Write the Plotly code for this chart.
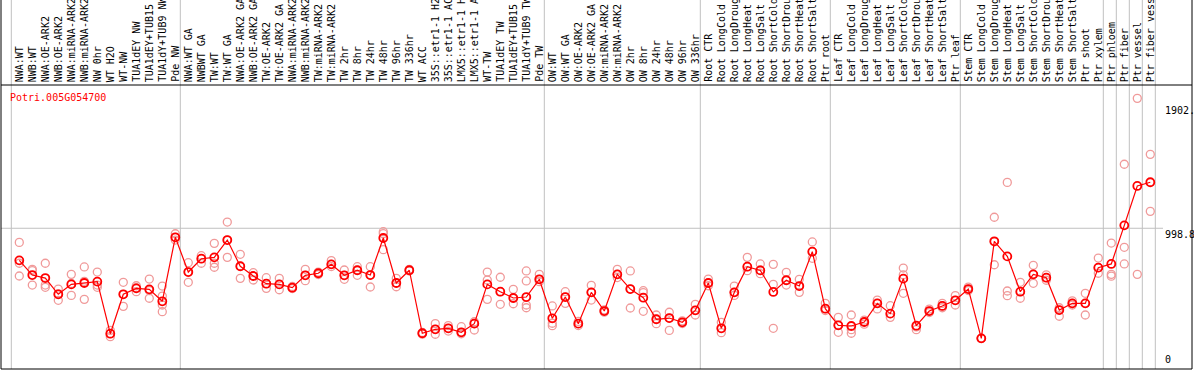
import plotly.graph_objects as go

gene = "Potri.005G054700"

labels = [
    "NWA:WT", "NWB:WT", "NWA:OE-ARK2", "NWB:OE-ARK2", "NWA:miRNA-ARK2", "NWB:miRNA-ARK2",
    "NW 0hr", "WT H2O", "WT-NW", "TUA1dEY NW", "TUA1dEY+TUB15", "TUA1dY+TUB9 NW", "Pde NW",
    "NWA:WT GA", "NWBWT GA", "TW:WT", "TW:WT GA", "NWA:OE-ARK2 GA", "NWB:OE-ARK2 GA",
    "TW:OE-ARK2", "TW:OE-ARK2 GA", "NWA:miRNA-ARK2", "NWB:miRNA-ARK2", "TW:miRNA-ARK2",
    "TW:miRNA-ARK2", "TW 2hr", "TW 8hr", "TW 24hr", "TW 48hr", "TW 96hr", "TW 336hr",
    "WT ACC", "35S::etr1-1 H2", "35S::etr1-1 AC", "LMX5::etr1-1 H", "LMX5::etr1-1 A",
    "WT-TW", "TUA1dEY TW", "TUA1dEY+TUB15", "TUA1dY+TUB9 TW", "Pde TW",
    "OW:WT", "OW:WT GA", "OW:OE-ARK2", "OW:OE-ARK2 GA", "OW:miRNA-ARK2", "OW:miRNA-ARK2",
    "OW 2hr", "OW 8hr", "OW 24hr", "OW 48hr", "OW 96hr", "OW 336hr",
    "Root CTR", "Root LongCold", "Root LongDroug", "Root LongHeat", "Root LongSalt",
    "Root ShortCold", "Root ShortDrou", "Root ShortHeat", "Root ShortSalt", "Ptr root",
    "Leaf CTR", "Leaf LongCold", "Leaf LongDroug", "Leaf LongHeat", "Leaf LongSalt",
    "Leaf ShortCold", "Leaf ShortDrou", "Leaf ShortHeat", "Leaf ShortSalt", "Ptr leaf",
    "Stem CTR", "Stem LongCold", "Stem LongDroug", "Stem LongHeat", "Stem LongSalt",
    "Stem ShortCold", "Stem ShortDrou", "Stem ShortHeat", "Stem ShortSalt", "Ptr shoot",
    "Ptr xylem", "Ptr phloem", "Ptr fiber", "Ptr vessel", "Ptr fiber vess",
]

means = [
    765, 658, 636, 518, 590, 600, 610, 231, 518, 561, 554, 467, 933,
    680, 777, 787, 913, 722, 651, 595, 590, 566, 656, 671, 736, 656, 693, 658, 928,
    600, 693, 234, 263, 270, 241, 304, 590, 537, 491, 498, 627,
    343, 498, 304, 532, 396, 663, 556, 493, 336, 345, 314, 401,
    600, 270, 532, 719, 692, 535, 620, 578, 828, 413,
    292, 287, 316, 452, 377, 632, 289, 396, 433, 474,
    556, 197, 904, 794, 537, 663, 639, 403, 452, 452, 712, 739, 1020, 1307, 1334,
]

replicates = [
    [896, 744, 651], [700, 585, 690], [744, 585, 569], [556, 520, 474], [663, 597, 510],
    [717, 612, 481], [680, 585, 569], [255, 209, 231], [605, 430, 518], [580, 537, 566],
    [629, 489, 545], [578, 505, 440, 391], [959, 913, 933],
    [748, 680, 605], [799, 777, 744], [889, 744, 715], [1044, 913, 787], [809, 634, 722],
    [675, 622, 651], [639, 561, 595], [634, 551, 590], [575, 560, 566], [700, 617, 656],
    [680, 662, 671], [763, 720, 736], [695, 627, 656], [719, 656, 693], [719, 571, 658],
    [974, 843, 960], [634, 573, 600], [700, 688, 693], [240, 228, 234], [304, 227, 263],
    [290, 250, 270], [282, 230, 241], [258, 318, 304], [680, 622, 481], [642, 537, 445],
    [554, 490, 449], [688, 615, 440, 420], [663, 610, 627],
    [433, 307, 289], [537, 452, 498], [320, 290, 304], [583, 476, 532], [405, 388, 396],
    [700, 640, 663], [688, 418, 556], [544, 394, 530], [367, 304, 336], [387, 255, 345],
    [325, 305, 314], [445, 367, 401],
    [629, 580, 600], [314, 238, 270], [578, 510, 532], [787, 690, 719], [739, 668, 695],
    [736, 590, 270], [678, 585, 620], [627, 532, 578], [899, 780, 828], [452, 400, 413],
    [350, 241, 292], [367, 234, 260], [330, 300, 316], [476, 411, 452], [435, 350, 377],
    [709, 660, 525], [260, 289, 280], [410, 385, 396], [452, 420, 433], [508, 440, 474],
    [570, 545, 556], [197, 197, 197], [1079, 900, 733], [1333, 542, 508], [605, 489, 537],
    [729, 598, 663], [660, 620, 639], [420, 358, 403], [470, 440, 452], [525, 367, 452],
    [782, 671, 712], [891, 663, 650], [1465, 860, 739], [1945, 663], [1537, 1122],
]

# first index of each group (vertical separators)
group_starts = [0, 13, 41, 53, 63, 73, 84, 85, 86, 87]
ytick_vals = [0, 998.8, 1902]
ytick_text = ["0", "998.8", "1902."]

W, H = 1194, 370
ML, MR, MT, MB = 1, 2, 85, 1
PW = W - ML - MR
PH = H - MT - MB
px_per_x = 13.0
x0 = -(19.3 - ML) / px_per_x
x1 = x0 + PW / px_per_x
y_lo, y_hi = -26.2, 2042.2

FONT = "DejaVu Sans Mono"
RED = "#ff0000"
PINK = "#f09a9a"

xs = list(range(len(labels)))
rx, ry = [], []
for i, reps in enumerate(replicates):
    for v in reps:
        rx.append(i)
        ry.append(v)

fig = go.Figure()
fig.add_trace(go.Scatter(
    x=rx, y=ry, mode="markers",
    marker=dict(symbol="circle-open", size=8, color=PINK, line=dict(width=1.3, color=PINK)),
    hoverinfo="skip", showlegend=False,
))
fig.add_trace(go.Scatter(
    x=xs, y=means, mode="lines+markers",
    line=dict(color=RED, width=1.2),
    marker=dict(symbol="circle-open", size=8, color=RED, line=dict(width=1.8, color=RED)),
    showlegend=False,
))

shapes = []
ytop_paper = (H - MB) / PH + 0.01
# vertical separators
for g in group_starts:
    xv = g - 8 / 13
    shapes.append(dict(type="line", xref="x", yref="paper", x0=xv, x1=xv, y0=0, y1=ytop_paper,
                       line=dict(color="#c0c0c0", width=1), layer="below"))
xv = 87 + 5 / 13
shapes.append(dict(type="line", xref="x", yref="paper", x0=xv, x1=xv, y0=0, y1=ytop_paper,
                   line=dict(color="#c0c0c0", width=1), layer="below"))
# horizontal reference line
shapes.append(dict(type="line", xref="paper", yref="y", x0=0, x1=(1163 - ML) / PW,
                   y0=ytick_vals[1], y1=ytick_vals[1], line=dict(color="#c0c0c0", width=1), layer="below"))
# frame
shapes.append(dict(type="line", xref="paper", yref="paper", x0=0, x1=1, y0=1, y1=1,
                   line=dict(color="black", width=1)))
shapes.append(dict(type="line", xref="paper", yref="paper", x0=0, x1=1, y0=0, y1=0,
                   line=dict(color="black", width=1)))
shapes.append(dict(type="line", xref="paper", yref="paper", x0=0, x1=0, y0=0, y1=ytop_paper,
                   line=dict(color="black", width=1)))
shapes.append(dict(type="line", xref="paper", yref="paper", x0=1, x1=1, y0=0, y1=ytop_paper,
                   line=dict(color="black", width=1)))

annotations = []
ylab = (H - MB - 83) / PH
for i, lab in enumerate(labels):
    annotations.append(dict(x=i, y=ylab, xref="x", yref="paper", text=lab, textangle=-90,
                            showarrow=False, xanchor="center", yanchor="bottom", borderpad=0,
                            font=dict(family=FONT, size=10, color="black")))
for v, t in zip(ytick_vals, ytick_text):
    if v == 0:
        annotations.append(dict(x=(1164 - ML) / PW, y=0.012, xref="paper", yref="paper", text=t,
                                showarrow=False, xanchor="left", yanchor="bottom", borderpad=0,
                                font=dict(family=FONT, size=10, color="black")))
    else:
        annotations.append(dict(x=(1164 - ML) / PW, y=v, xref="paper", yref="y", text=t,
                                showarrow=False, xanchor="left", yanchor="top", borderpad=0,
                                font=dict(family=FONT, size=10, color="black")))
annotations.append(dict(x=(9 - ML) / PW, y=(H - MB - 97.3) / PH, xref="paper", yref="paper",
                        text=gene, showarrow=False, xanchor="left", yanchor="middle", borderpad=0,
                        font=dict(family=FONT, size=10, color=RED)))

fig.update_layout(
    width=W, height=H,
    margin=dict(l=ML, r=MR, t=MT, b=MB, pad=0),
    paper_bgcolor="white", plot_bgcolor="white",
    xaxis=dict(range=[x0, x1], visible=False, showgrid=False, zeroline=False),
    yaxis=dict(range=[y_lo, y_hi], visible=False, showgrid=False, zeroline=False),
    shapes=shapes, annotations=annotations,
    showlegend=False,
)

fig.write_html(
    "out.html",
    config={"displayModeBar": False},
    post_script="document.body.style.margin='0';document.body.style.overflow='hidden';",
)
